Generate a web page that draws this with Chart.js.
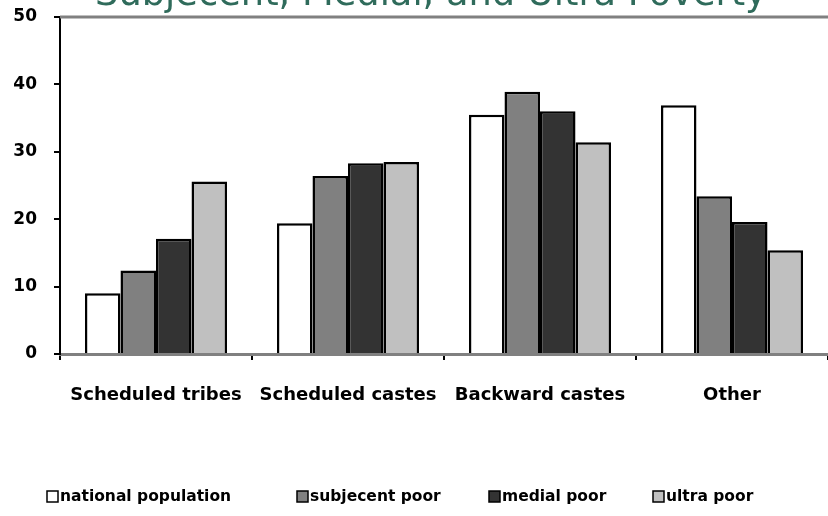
<!DOCTYPE html>
<html>
<head>
<meta charset="utf-8">
<script src="https://cdn.jsdelivr.net/npm/chart.js@4.4.0/dist/chart.umd.min.js"></script>
<style>
  body { margin: 0; background: #fff; }
  #wrap { width: 828px; height: 516px; position: relative; overflow: hidden; }
</style>
</head>
<body>
<div id="wrap"><canvas id="myChart" width="828" height="516"></canvas></div>
<script>
var categories = ['Scheduled tribes', 'Scheduled castes', 'Backward castes', 'Other'];
var seriesNames = ['national population', 'subjecent poor', 'medial poor', 'ultra poor'];
var national = [9.0, 19.4, 35.5, 36.9];
var subjecent = [12.4, 26.4, 38.9, 23.4];
var medial = [17.1, 28.3, 36.0, 19.6];
var ultra = [25.6, 28.5, 31.4, 15.4];
var yTicks = [0, 10, 20, 30, 40, 50];
var titleText = 'Subjecent, Medial, and Ultra Poverty';

var colors = ['#ffffff', '#808080', '#333333', '#c0c0c0'];
var values = [national, subjecent, medial, ultra];

var datasets = seriesNames.map(function (name, i) {
    return {
        label: name,
        data: values[i],
        backgroundColor: colors[i],
        borderColor: '#000000',
        borderWidth: 2.5,
        categoryPercentage: 0.74,
        barPercentage: 1.0
    };
});

// title sits half off the top of the picture, draw it straight on the canvas
var cutTitle = {
    id: 'cutTitle',
    afterDraw: function (chart) {
        var ctx = chart.ctx;
        ctx.save();
        ctx.font = '32px "DejaVu Sans"';
        var w = ctx.measureText(titleText).width;
        var size = 32 * 672 / w;
        ctx.font = size + 'px "DejaVu Sans"';
        ctx.fillStyle = '#2f6b5b';
        ctx.textAlign = 'center';
        ctx.textBaseline = 'alphabetic';
        ctx.fillText(titleText, 431, 5);
        ctx.restore();
    }
};

// grey frame line on top of the plot
var topBorder = {
    id: 'topBorder',
    beforeDatasetsDraw: function (chart) {
        var a = chart.chartArea;
        var ctx = chart.ctx;
        ctx.save();
        ctx.strokeStyle = '#808080';
        ctx.lineWidth = 3;
        ctx.beginPath();
        ctx.moveTo(a.left, a.top);
        ctx.lineTo(a.right + 10, a.top);
        ctx.stroke();
        ctx.restore();
    }
};

// legend at the bottom, spread out like the original
var bottomLegend = {
    id: 'bottomLegend',
    afterDraw: function (chart) {
        var ctx = chart.ctx;
        var xs = [47, 297, 489, 653];
        var y = 497;
        ctx.save();
        ctx.font = 'bold 15.5px "DejaVu Sans"';
        ctx.textBaseline = 'middle';
        chart.data.datasets.forEach(function (ds, i) {
            ctx.fillStyle = ds.backgroundColor;
            ctx.fillRect(xs[i], y - 6, 11, 11);
            ctx.strokeStyle = '#000';
            ctx.lineWidth = 1.5;
            ctx.strokeRect(xs[i], y - 6, 11, 11);
            ctx.fillStyle = '#000';
            ctx.fillText(ds.label, xs[i] + 13, y);
        });
        ctx.restore();
    }
};

var ctx = document.getElementById('myChart').getContext('2d');
var chart = new Chart(ctx, {
    type: 'bar',
    data: {
        labels: categories,
        datasets: datasets
    },
    options: {
        responsive: false,
        animation: false,
        layout: { padding: 0 },
        plugins: {
            legend: { display: false },
            tooltip: { enabled: false }
        },
        scales: {
            x: {
                grid: {
                    offset: true,
                    drawOnChartArea: false,
                    color: '#000',
                    lineWidth: 2,
                    tickLength: 6
                },
                border: { color: '#808080', width: 3 },
                ticks: {
                    color: '#000',
                    padding: 25,
                    font: { family: '"DejaVu Sans"', weight: 'bold', size: 18 }
                },
                afterFit: function (scale) { scale.height = 162; }
            },
            y: {
                min: 0,
                max: 50,
                afterBuildTicks: function (scale) {
                    scale.ticks = yTicks.map(function (v) { return { value: v }; });
                },
                grid: {
                    drawOnChartArea: false,
                    color: '#000',
                    lineWidth: 2,
                    tickLength: 6
                },
                border: { color: '#000', width: 2 },
                ticks: {
                    color: '#000',
                    padding: 17,
                    font: { family: '"DejaVu Sans"', weight: 'bold', size: 17 }
                },
                afterFit: function (scale) {
                    scale.width = 60;
                    // tick padding also pushes the top down, put the plot top where the original has it
                    scale.paddingTop = 17;
                    scale.paddingBottom = 0;
                }
            }
        }
    },
    plugins: [topBorder, cutTitle, bottomLegend]
});
</script>
</body>
</html>
